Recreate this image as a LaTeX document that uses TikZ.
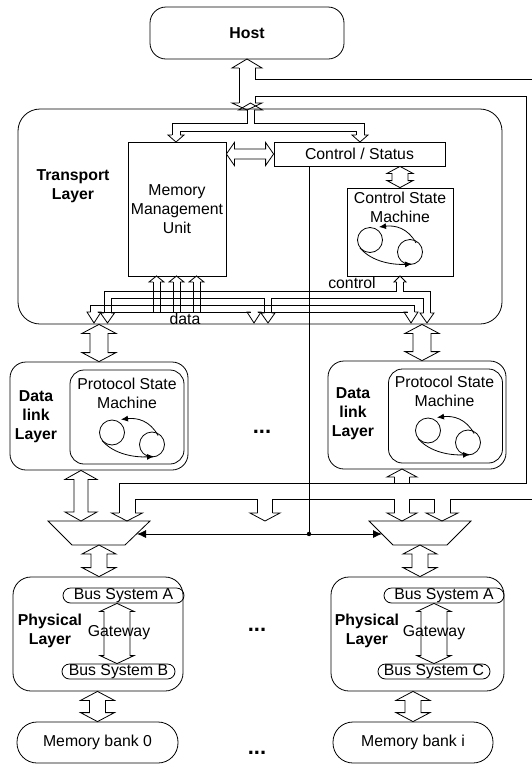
\documentclass[tikz,border=0pt]{standalone}
\usepackage{fontspec}
\setmainfont{Liberation Sans}
\usetikzlibrary{arrows.meta, calc}

\tikzset{
  box/.style={draw, inner sep=0pt, align=center},
  lbl/.style={font=\fontsize{15.8}{19}\selectfont\bfseries, align=center},
  txt/.style={align=center},
  bsys/.style={box, rounded corners=7.5pt, minimum height=15, text height=11pt, text depth=3pt},
  dots/.style={font=\fontsize{22}{22}\selectfont\bfseries},
  head/.style={draw, fill=white},
  fsm/.pic={
    \draw (-20,-6) circle[radius=12.5pt];
    \draw (20,6) circle[radius=12.5pt];
    \draw[-{Latex[length=7pt,width=6pt]}] (26,-3) .. controls (18,-18) and (5,-21) .. (-11,-19);
    \draw[-{Latex[length=7pt,width=6pt]}] (-30,2) .. controls (-18,16) and (3,19) .. (22,18);
  }
}

% hollow double arrows between two nodes
\newcommand{\dblv}[5]{%
  \draw[head] let \p1=(#1), \p2=(#2) in
    (\x1,\y1) -- (\x1+#4pt,\y1-#5pt) -- (\x1+#3pt,\y1-#5pt) -- (\x1+#3pt,\y2+#5pt)
    -- (\x1+#4pt,\y2+#5pt) -- (\x1,\y2) -- (\x1-#4pt,\y2+#5pt) -- (\x1-#3pt,\y2+#5pt)
    -- (\x1-#3pt,\y1-#5pt) -- (\x1-#4pt,\y1-#5pt) -- cycle;}
\newcommand{\dblh}[5]{%
  \draw[head] let \p1=(#1), \p2=(#2) in
    (\x1,\y1) -- (\x1+#5pt,\y1+#4pt) -- (\x1+#5pt,\y1+#3pt) -- (\x2-#5pt,\y1+#3pt)
    -- (\x2-#5pt,\y1+#4pt) -- (\x2,\y1) -- (\x2-#5pt,\y1-#4pt) -- (\x2-#5pt,\y1-#3pt)
    -- (\x1+#5pt,\y1-#3pt) -- (\x1+#5pt,\y1-#4pt) -- cycle;}

\begin{document}
\begin{tikzpicture}[x=1pt, y=-1pt, line width=0.8pt, every node/.style={font=\fontsize{15.8}{19}\selectfont}]
\useasboundingbox (0,0) rectangle (531,764);

\node[box, rounded corners=16pt, minimum width=194, minimum height=52, font=\fontsize{15.8}{19}\selectfont\bfseries] (host) at (247,33) {Host};

% transport layer
\node[box, rounded corners=22pt, minimum width=484, minimum height=215] (tl) at (260,216.5) {};
\node[lbl] (tllbl) at (73,186) {Transport\\Layer};
\node[box, minimum width=98, minimum height=134] (mmu) at (177,209) {Memory\\Management\\Unit};
\node[box, minimum width=171, minimum height=24] (cs) at (359.5,154) {Control / Status};
\node[box, minimum width=106, minimum height=88] (csm) at (400,232) {};
\node[txt] (csmlbl) at (400,207) {Control State\\Machine};
\pic at (390,246) {fsm};
\node (ctrllbl) at (352,283) {control};
\node (datalbl) at (185,318.5) {data};

% data link layers
\node[box, rounded corners=16pt, minimum width=178, minimum height=108] (dl0) at (99,416) {};
\node[box, rounded corners=14pt, minimum width=114, minimum height=94] (psm0) at (127,417) {};
\node[lbl] (dl0lbl) at (36,417) {Data\\link\\Layer};
\node[txt] (psm0lbl) at (127,393.5) {Protocol State\\Machine};
\pic at (132,438.5) {fsm};

\node[box, rounded corners=16pt, minimum width=178, minimum height=108] (dl1) at (417,415) {};
\node[box, rounded corners=14pt, minimum width=114, minimum height=94] (psm1) at (445.5,416) {};
\node[lbl] (dl1lbl) at (353,414) {Data\\link\\Layer};
\node[txt] (psm1lbl) at (444.5,391.5) {Protocol State\\Machine};
\pic at (448,436.5) {fsm};
\node[dots] (dotsa) at (262,432) {...};

% multiplexers
\draw (48,521) -- (150,521) -- (125,545) -- (72,545) -- cycle;
\draw (369,521) -- (471,521) -- (447,545) -- (393,545) -- cycle;
\coordinate (mux0n) at (99,521);
\coordinate (mux0s) at (99,545);
\coordinate (mux1n) at (420,521);
\coordinate (mux1s) at (420,545);

% physical layers
\node[box, rounded corners=18pt, minimum width=170, minimum height=114] (pl0) at (98,634) {};
\node[lbl] (pl0lbl) at (50,631) {Physical\\Layer};
\node[bsys, minimum width=121] (busa0) at (123.5,595.5) {Bus System A};
\node[bsys, minimum width=113] (busb0) at (118.5,671.5) {Bus System B};

\node[box, rounded corners=18pt, minimum width=173, minimum height=114] (pl1) at (417.5,634) {};
\node[lbl] (pl1lbl) at (367,631) {Physical\\Layer};
\node[bsys, minimum width=120] (busa1) at (444,595.5) {Bus System A};
\node[bsys, minimum width=112] (busc1) at (434,671.5) {Bus System C};
\node[dots] (dotsb) at (257,630) {...};

% memory banks
\node[box, rounded corners=20pt, minimum width=161, minimum height=41] (mem0) at (97.5,742.5) {Memory bank 0};
\node[box, rounded corners=20pt, minimum width=160, minimum height=41] (memi) at (413,742.5) {Memory bank i};
\node[dots] (dotsc) at (257,753) {...};

% host bus
\draw (239,68) -- (239,103);
\draw (255,68) -- (255,79) -- (540,79);
\draw (255,103) -- (255,96) -- (526,96) -- (526,483) -- (119,483) -- (119,513);
\draw (540,499) -- (450,499) -- (450,513);
\draw (434,513) -- (434,499) -- (409.5,499) -- (409.5,513);
\draw (394.5,513) -- (394.5,499) -- (272.5,499) -- (272.5,513);
\draw (257.5,513) -- (257.5,499) -- (135,499) -- (135,513);
\draw (394.5,477) -- (394.5,483);
\draw (409.5,477) -- (409.5,483);

% internal buses
\draw (247,110) -- (247,123) -- (172,123) -- (172,135);
\draw (254,110) -- (254,123) -- (364,123) -- (364,135);
\draw (180,135) -- (180,131) -- (356,131) -- (356,135);
\draw (104,313) -- (104,291.5) -- (396.5,291.5) -- (396.5,282);
\draw (403.5,282) -- (403.5,291.5) -- (430.5,291.5) -- (430.5,313);
\draw (111,313) -- (111,298.5) -- (264.5,298.5) -- (264.5,313);
\draw (271.5,313) -- (271.5,298.5) -- (423.5,298.5) -- (423.5,313);
\draw (90.5,312) -- (90.5,305) -- (414.5,305) -- (414.5,312);
\draw (97.5,312) -- (250.5,312);
\draw (257.5,312) -- (407.5,312);
\foreach \x in {156.5,176.5,196.5}{
  \draw (\x-3.5,282) -- (\x-3.5,312);
  \draw (\x+3.5,282) -- (\x+3.5,312);}

% bus heads
\foreach \x/\y/\h/\l/\w in {247/59/15/9/8, 247/110/15/-7/8, 127/521/15.5/-8/8, 265/521/15/-8/7.5,
    402/469/15/8/7.5, 402/521/15/-8/7.5, 442/521/16/-8/8, 250.5/103/12/7/3.5, 176/142/8/-7/4,
    360/142/8/-7/4, 156.5/276/7.5/6/3.5, 176.5/276/7.5/6/3.5, 196.5/276/7.5/6/3.5, 400/276/6/6/3.5,
    94/323/7/-11/3.5, 254/323/7/-11/3.5, 411/323/7/-11/3.5, 107.5/323/7/-10/3.5,
    268/323/7/-10/3.5, 427/323/7/-10/3.5}
  \draw (\x-\w,\y+\l) -- (\x-\h,\y+\l) -- (\x,\y) -- (\x+\h,\y+\l) -- (\x+\w,\y+\l);

\coordinate (dl1t) at ($(dl1.north)+(5,0)$);
\coordinate (dl0b) at ($(dl0.south)+(-18,0)$);
\coordinate (gw0) at (117,633);
\coordinate (gw1) at (434,633);
\dblh{mmu.east |- cs.west}{cs.west}{5}{11.5}{8}
\dblv{csm.north |- cs.south}{csm.north}{8}{13}{7}
\dblv{dl0.north |- tl.south}{dl0.north}{9}{17}{9}
\dblv{dl1t |- tl.south}{dl1t}{9}{17}{9}
\dblv{dl0b}{mux0n}{7}{16}{9}
\dblv{mux0s}{pl0.north}{8}{17}{9}
\dblv{mux1s}{pl1.north}{8}{17}{9}
\dblv{gw0 |- busa0.south}{busb0.north}{13}{17}{8}
\dblv{gw1 |- busa1.south}{busc1.north}{13}{17}{8}
\dblv{mem0.north |- pl0.south}{mem0.north}{8}{17}{9}
\dblv{memi.north |- pl1.south}{memi.north}{8}{17}{9}
\node (gwlbl0) at ($(gw0)+(2,0)$) {Gateway};
\node (gwlbl1) at (gw1) {Gateway};

% control line
\coordinate (ctl) at (309,534);
\coordinate (mux0e) at (137,534);
\coordinate (mux1w) at (382,534);
\draw (ctl |- cs.south) -- (ctl);
\draw[-{Latex[length=9pt,width=8pt]}] (ctl) -- (mux0e);
\draw[-{Latex[length=9pt,width=8pt]}] (ctl) -- (mux1w);
\fill (ctl) circle[radius=2.2pt];
\end{tikzpicture}
\end{document}
